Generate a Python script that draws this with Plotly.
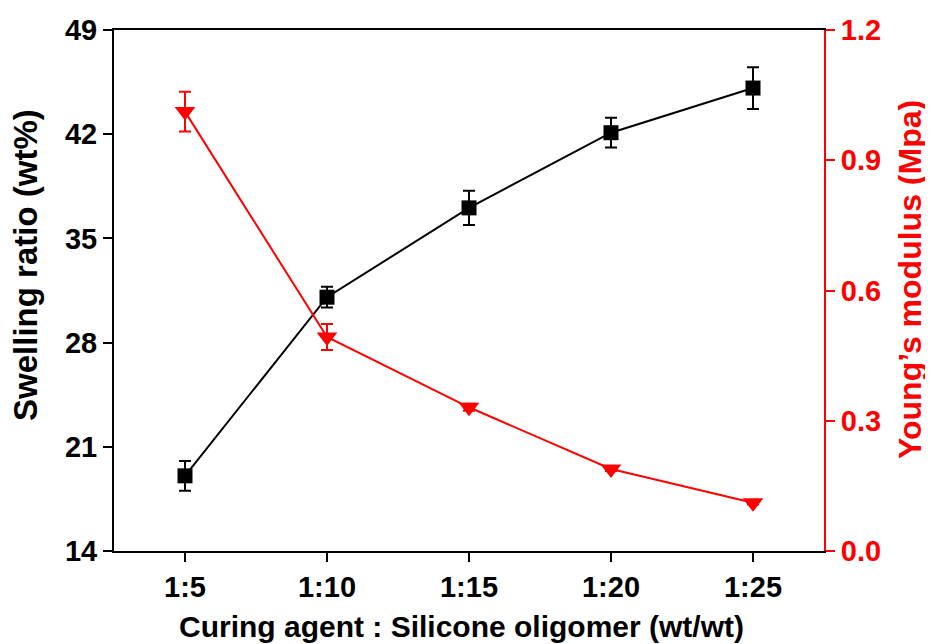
import plotly.graph_objects as go

categories = ["1:5", "1:10", "1:15", "1:20", "1:25"]
swelling = [19.05, 31.05, 37.05, 42.1, 45.1]
swelling_err = [1.0, 0.7, 1.15, 1.0, 1.4]
modulus = [1.012, 0.493, 0.331, 0.189, 0.111]
modulus_err = [0.046, 0.03, 0.008, 0.005, 0.004]
left_ticks = [14, 21, 28, 35, 42, 49]
right_ticks = [0.0, 0.3, 0.6, 0.9, 1.2]
right_ticktext = ["0.0", "0.3", "0.6", "0.9", "1.2"]

FONT = "Liberation Sans, Arial, sans-serif"

fig = go.Figure()
fig.add_trace(go.Scatter(
    x=categories, y=swelling, mode="lines+markers",
    line=dict(color="black", width=2),
    marker=dict(symbol="square", size=15, color="black"),
    error_y=dict(type="data", array=swelling_err, color="black", thickness=2, width=6),
    yaxis="y", showlegend=False,
))
fig.add_trace(go.Scatter(
    x=categories, y=modulus, mode="lines+markers",
    line=dict(color="red", width=2),
    marker=dict(symbol="triangle-down", size=18, color="red"),
    error_y=dict(type="data", array=modulus_err, color="red", thickness=2, width=6),
    yaxis="y2", showlegend=False,
))

tickfont = dict(family=FONT, size=29, weight="bold", color="black")
fig.update_layout(
    width=925, height=636,
    margin=dict(l=106, r=109, t=22, b=93, autoexpand=False),
    plot_bgcolor="white", paper_bgcolor="white",
    xaxis=dict(
        type="category", range=[-0.5, 4.5],
        showline=True, linecolor="black", linewidth=2, mirror=True,
        ticks="outside", ticklen=9, tickwidth=2, tickcolor="black",
        tickfont=tickfont, showgrid=False, zeroline=False,
    ),
    yaxis=dict(
        range=[14, 49], tickvals=left_ticks,
        showline=True, linecolor="black", linewidth=2,
        ticks="outside", ticklen=9, tickwidth=2, tickcolor="black",
        tickfont=tickfont, showgrid=False, zeroline=False,
    ),
    yaxis2=dict(
        range=[0, 1.2], tickvals=right_ticks, ticktext=right_ticktext,
        overlaying="y", side="right",
        showline=True, linecolor="red", linewidth=2,
        ticks="outside", ticklen=9, tickwidth=2, tickcolor="red",
        tickfont=dict(family=FONT, size=29, weight="bold", color="red"),
        showgrid=False, zeroline=False,
    ),
    annotations=[
        dict(text="Curing agent : Silicone oligomer (wt/wt)", xref="paper", yref="paper",
             x=0.489, y=-0.144, showarrow=False, xanchor="center", yanchor="middle",
             font=dict(family=FONT, size=30, weight="bold", color="black")),
        dict(text="Swelling ratio (wt%)", xref="paper", yref="paper",
             x=-0.124, y=0.549, showarrow=False, textangle=-90,
             xanchor="center", yanchor="middle",
             font=dict(family=FONT, size=33, weight="bold", color="black")),
        dict(text="Young’s modulus (Mpa)", xref="paper", yref="paper",
             x=1.121, y=0.522, showarrow=False, textangle=-90,
             xanchor="center", yanchor="middle",
             font=dict(family=FONT, size=32, weight="bold", color="red")),
    ],
)

fig.write_html("out.html")
